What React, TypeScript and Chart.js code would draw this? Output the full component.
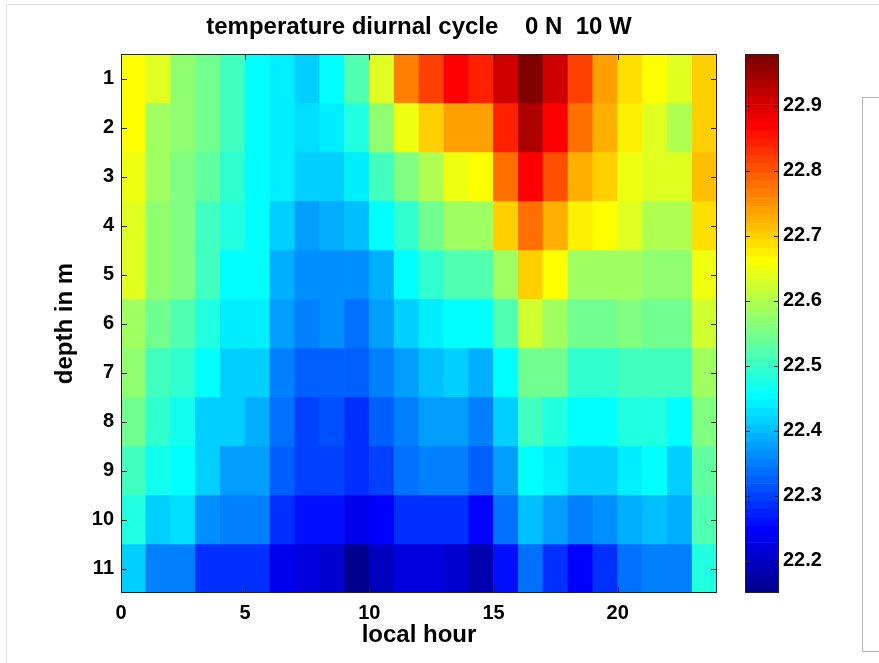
import React, { useEffect, useRef } from "react";
import { Chart, registerables } from "chart.js";

Chart.register(...registerables);

// ---- data ----
const hours = [0, 1, 2, 3, 4, 5, 6, 7, 8, 9, 10, 11, 12, 13, 14, 15, 16, 17, 18, 19, 20, 21, 22, 23];
const depths = [1, 2, 3, 4, 5, 6, 7, 8, 9, 10, 11];
const xTickValues = [0, 5, 10, 15, 20];
const colorTickValues = [22.2, 22.3, 22.4, 22.5, 22.6, 22.7, 22.8, 22.9];
const colorMin = 22.15;
const colorMax = 22.98;

const depth1 = [22.66, 22.63, 22.57, 22.54, 22.51, 22.46, 22.44, 22.42, 22.45, 22.52, 22.63, 22.76, 22.82, 22.87, 22.84, 22.91, 22.975, 22.91, 22.82, 22.74, 22.69, 22.66, 22.63, 22.70];
const depth2 = [22.66, 22.59, 22.57, 22.54, 22.51, 22.46, 22.44, 22.43, 22.44, 22.48, 22.57, 22.65, 22.70, 22.74, 22.735, 22.85, 22.935, 22.87, 22.78, 22.73, 22.675, 22.64, 22.60, 22.705];
const depth3 = [22.655, 22.585, 22.56, 22.53, 22.50, 22.46, 22.44, 22.41, 22.41, 22.44, 22.51, 22.56, 22.60, 22.655, 22.66, 22.775, 22.875, 22.80, 22.73, 22.705, 22.645, 22.64, 22.63, 22.71];
const depth4 = [22.64, 22.577, 22.56, 22.51, 22.48, 22.45, 22.41, 22.377, 22.395, 22.40, 22.45, 22.50, 22.545, 22.59, 22.59, 22.70, 22.775, 22.725, 22.672, 22.66, 22.64, 22.60, 22.60, 22.69];
const depth5 = [22.63, 22.567, 22.555, 22.51, 22.46, 22.455, 22.385, 22.365, 22.365, 22.37, 22.395, 22.45, 22.50, 22.525, 22.525, 22.59, 22.705, 22.66, 22.59, 22.59, 22.585, 22.57, 22.57, 22.655];
const depth6 = [22.59, 22.545, 22.52, 22.475, 22.44, 22.44, 22.375, 22.355, 22.365, 22.336, 22.377, 22.415, 22.44, 22.46, 22.46, 22.52, 22.62, 22.59, 22.55, 22.55, 22.56, 22.545, 22.54, 22.62];
const depth7 = [22.57, 22.51, 22.50, 22.455, 22.42, 22.42, 22.35, 22.322, 22.322, 22.32, 22.345, 22.377, 22.405, 22.41, 22.395, 22.46, 22.55, 22.54, 22.50, 22.50, 22.505, 22.505, 22.505, 22.59];
const depth8 = [22.54, 22.50, 22.47, 22.42, 22.41, 22.395, 22.34, 22.30, 22.31, 22.285, 22.32, 22.345, 22.377, 22.375, 22.355, 22.42, 22.51, 22.475, 22.45, 22.46, 22.475, 22.475, 22.45, 22.56];
const depth9 = [22.51, 22.47, 22.45, 22.41, 22.375, 22.375, 22.32, 22.30, 22.30, 22.28, 22.30, 22.335, 22.35, 22.35, 22.32, 22.377, 22.46, 22.44, 22.41, 22.42, 22.44, 22.455, 22.42, 22.53];
const depth10 = [22.475, 22.42, 22.43, 22.365, 22.35, 22.35, 22.285, 22.265, 22.258, 22.23, 22.246, 22.285, 22.28, 22.28, 22.246, 22.336, 22.40, 22.377, 22.35, 22.37, 22.395, 22.405, 22.385, 22.52];
const depth11 = [22.42, 22.345, 22.345, 22.29, 22.285, 22.285, 22.238, 22.22, 22.205, 22.16, 22.197, 22.22, 22.225, 22.21, 22.185, 22.254, 22.336, 22.285, 22.246, 22.29, 22.335, 22.345, 22.345, 22.48];

const rows = [depth1, depth2, depth3, depth4, depth5, depth6, depth7, depth8, depth9, depth10, depth11];

// ---- MATLAB jet(64) colormap ----
function jet64(): string[] {
  const out: string[] = [];
  for (let r = 1; r <= 64; r++) {
    let red = 0, green = 0, blue = 0;
    if (r >= 25 && r <= 40) red = (r - 24) / 16;
    else if (r >= 41 && r <= 55) red = 1;
    else if (r >= 56) red = (72 - r) / 16;
    if (r >= 9 && r <= 24) green = (r - 8) / 16;
    else if (r >= 25 && r <= 39) green = 1;
    else if (r >= 40 && r <= 55) green = (56 - r) / 16;
    if (r <= 8) blue = (r + 8) / 16;
    else if (r <= 23) blue = 1;
    else if (r <= 39) blue = (40 - r) / 16;
    out.push(`rgb(${Math.round(red * 255)},${Math.round(green * 255)},${Math.round(blue * 255)})`);
  }
  return out;
}
const JET = jet64();
function colorFor(v: number): string {
  let i = Math.floor(((v - colorMin) / (colorMax - colorMin)) * 64);
  if (i < 0) i = 0;
  if (i > 63) i = 63;
  return JET[i];
}

const FONT = '"Liberation Sans", Arial, Helvetica, sans-serif';

const axesFrame = {
  id: "axesFrame",
  afterDatasetsDraw(chart: any, _args: any, opts: any) {
    const { ctx, chartArea } = chart;
    const left = Math.round(chartArea.left);
    const right = Math.round(chartArea.right);
    const top = Math.round(chartArea.top);
    const bottom = Math.round(chartArea.bottom);
    const len = opts.tickLen || 6;
    ctx.save();
    ctx.strokeStyle = "#222";
    ctx.lineWidth = 1;
    ctx.beginPath();
    Object.values(chart.scales).forEach((scale: any) => {
      if (scale.options.display === false) return;
      scale.ticks.forEach((t: any) => {
        const p = Math.round(scale.getPixelForValue(t.value)) + 0.5;
        if (scale.isHorizontal()) {
          ctx.moveTo(p, bottom);
          ctx.lineTo(p, bottom - len);
          ctx.moveTo(p, top);
          ctx.lineTo(p, top + len);
        } else {
          ctx.moveTo(left, p);
          ctx.lineTo(left + len, p);
          ctx.moveTo(right, p);
          ctx.lineTo(right - len, p);
        }
      });
    });
    ctx.stroke();
    ctx.strokeRect(left + 0.5, top + 0.5, right - left - 1, bottom - top - 1);
    ctx.restore();
  },
};

export default function App() {
  const mainRef = useRef<HTMLCanvasElement>(null);
  const barRef = useRef<HTMLCanvasElement>(null);

  useEffect(() => {
    Chart.defaults.font.family = FONT;
    const tickFont = { family: FONT, size: 20, weight: "bold" as const };
    const labelFont = { family: FONT, size: 24, weight: "bold" as const };

    const main = new Chart(mainRef.current!, {
      type: "bar",
      data: {
        datasets: rows.map((row, di) => ({
          label: `depth ${depths[di]}`,
          data: row.map((_v, hi) => ({ x: hours[hi] + 0.5, y: [depths[di] - 0.5, depths[di] + 0.5] })) as any,
          backgroundColor: row.map(colorFor),
          borderWidth: 0,
          barPercentage: 1,
          categoryPercentage: 1,
          grouped: false,
        })),
      },
      options: {
        responsive: false,
        animation: false,
        layout: { padding: { left: 50, top: 0, right: 162, bottom: 0 } },
        plugins: {
          legend: { display: false },
          tooltip: { enabled: false },
          title: {
            display: true,
            fullSize: false,
            text: "temperature diurnal cycle    0 N  10 W",
            color: "#000",
            font: labelFont,
            padding: { top: 12.6, bottom: 12.6 },
          },
          axesFrame: { tickLen: 6 },
        } as any,
        scales: {
          x: {
            type: "linear",
            min: 0,
            max: 24,
            offset: false,
            grid: { display: false, drawTicks: false },
            border: { display: false },
            afterBuildTicks: (s: any) => {
              s.ticks = xTickValues.map((v) => ({ value: v }));
            },
            afterFit: (s: any) => {
              s.height = 70;
            },
            ticks: { color: "#000", font: tickFont, padding: 8, maxRotation: 0 },
            title: {
              display: true,
              text: "local hour",
              color: "#000",
              font: labelFont,
              padding: { top: 0, bottom: 13 },
            },
          },
          y: {
            type: "linear",
            reverse: true,
            min: 0.5,
            max: 11.5,
            beginAtZero: false,
            grid: { display: false, drawTicks: false },
            border: { display: false },
            afterBuildTicks: (s: any) => {
              s.ticks = depths.map((v) => ({ value: v }));
            },
            afterFit: (s: any) => {
              s.width = 71;
            },
            ticks: { color: "#000", font: tickFont, padding: 7 },
            title: {
              display: true,
              text: "depth in m",
              color: "#000",
              font: labelFont,
              padding: { top: 1, bottom: 0 },
            },
          },
        },
      },
      plugins: [axesFrame],
    });

    const step = (colorMax - colorMin) / 64;
    const bar = new Chart(barRef.current!, {
      type: "bar",
      data: {
        labels: ["cb"],
        datasets: [
          {
            label: "colorbar",
            data: JET.map((_c, i) => ({ x: "cb", y: [colorMin + i * step, colorMin + (i + 1) * step] })) as any,
            backgroundColor: JET,
            borderWidth: 0,
            barPercentage: 1,
            categoryPercentage: 1,
          },
        ],
      },
      options: {
        responsive: false,
        animation: false,
        layout: { padding: { left: 745, top: 54, right: 0, bottom: 70 } },
        plugins: {
          legend: { display: false },
          tooltip: { enabled: false },
          axesFrame: { tickLen: 5 },
        } as any,
        scales: {
          x: { type: "category", display: false },
          y: {
            type: "linear",
            position: "right",
            min: colorMin,
            max: colorMax,
            beginAtZero: false,
            grid: { display: false, drawTicks: false },
            border: { display: false },
            afterBuildTicks: (s: any) => {
              s.ticks = colorTickValues.map((v) => ({ value: v }));
            },
            afterFit: (s: any) => {
              s.width = 100;
            },
            ticks: {
              color: "#000",
              font: tickFont,
              padding: 4,
              callback: (v: any) => Number(v).toFixed(1),
            },
          },
        },
      },
      plugins: [axesFrame],
    });

    return () => {
      main.destroy();
      bar.destroy();
    };
  }, []);

  const abs: React.CSSProperties = { position: "absolute", left: 0, top: 0 };
  return (
    <div style={{ position: "absolute", left: 0, top: 0, width: 879, height: 663, background: "#fff", overflow: "hidden" }}>
      <div style={{ position: "absolute", left: 6, top: 4, right: 0, height: 0, borderTop: "1px solid #e4e4e4" }} />
      <div style={{ position: "absolute", left: 6, top: 4, bottom: 0, width: 0, borderLeft: "1px solid #e4e4e4" }} />
      <div style={{ position: "absolute", left: 862, top: 97, width: 40, height: 553, border: "1px solid #b4b4b4" }} />
      <canvas ref={mainRef} width={879} height={663} style={abs} />
      <canvas ref={barRef} width={879} height={663} style={abs} />
    </div>
  );
}
